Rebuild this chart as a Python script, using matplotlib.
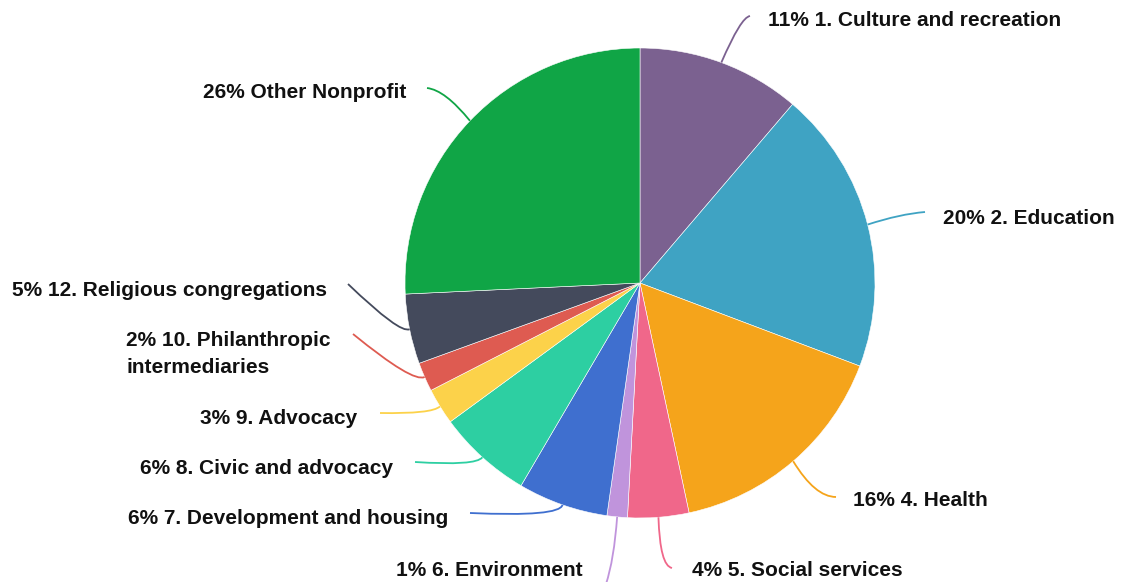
import matplotlib.pyplot as plt
from matplotlib.path import Path
from matplotlib.patches import PathPatch
import numpy as np

plt.rcParams['font.family'] = ['Liberation Sans', 'DejaVu Sans']

categories = ["1. Culture and recreation", "2. Education", "4. Health", "5. Social services",
              "6. Environment", "7. Development and housing", "8. Civic and advocacy",
              "9. Advocacy", "10. Philanthropic\nintermediaries", "12. Religious congregations",
              "Other Nonprofit"]
values = [11.25, 19.5, 15.9, 4.2, 1.4, 6.2, 6.5, 2.5, 2.0, 4.8, 25.75]
percent_labels = ["11%", "20%", "16%", "4%", "1%", "6%", "6%", "3%", "2%", "5%", "26%"]
colors = ["#7b6190", "#3fa3c3", "#f5a41b", "#f0678a", "#c094dc", "#3f6fcf",
          "#2dcfa2", "#fcd24a", "#de5b51", "#444a5c", "#10a546"]

# label layout (pixel coords, y down): text anchor, alignment, line control point and end point
text_pos = [(768, 21, 'left'), (943, 218, 'left'), (853, 501, 'left'), (692, 570, 'left'),
            (583, 570, 'right'), (448, 519, 'right'), (393, 469, 'right'), (357, 418, 'right'),
            (126, 354, 'left'), (327, 290, 'right'), (406, 93, 'right')]
line_ctrl = [(741, 17), (900, 214), (815, 497), (660, 566), (614, 560), (560, 517),
             (476, 466), (432, 414), (413, 383), (400, 334), (445, 90)]
line_end = [(750, 16), (925, 212), (836, 497), (672, 568), (606, 584), (470, 513),
            (415, 462), (380, 413), (353, 334), (348, 284), (427, 88)]

cx, cy, r = 640, 283, 235

fig = plt.figure(figsize=(11.24, 5.82), dpi=100)
ax = fig.add_axes([0, 0, 1, 1])

wedges, _ = ax.pie(values, colors=colors, center=(cx, cy), radius=r, startangle=-90,
                   counterclock=True, wedgeprops=dict(edgecolor='white', linewidth=0.4))
ax.set_xlim(0, 1124)
ax.set_ylim(582, 0)
ax.set_aspect('equal')
ax.axis('off')

for i, w in enumerate(wedges):
    mid = np.deg2rad((w.theta1 + w.theta2) / 2)
    start = (cx + r * np.cos(mid), cy + r * np.sin(mid))
    p = Path([start, line_ctrl[i], line_end[i]], [Path.MOVETO, Path.CURVE3, Path.CURVE3])
    ax.add_patch(PathPatch(p, fill=False, edgecolor=colors[i], linewidth=1.3, clip_on=False))
    tx, ty, ha = text_pos[i]
    ax.text(tx, ty, percent_labels[i] + " " + categories[i], ha=ha, va='center',
            fontsize=15, fontweight='bold', color='#111111', linespacing=1.5,
            multialignment='left')

plt.savefig("out.png", dpi=100)
